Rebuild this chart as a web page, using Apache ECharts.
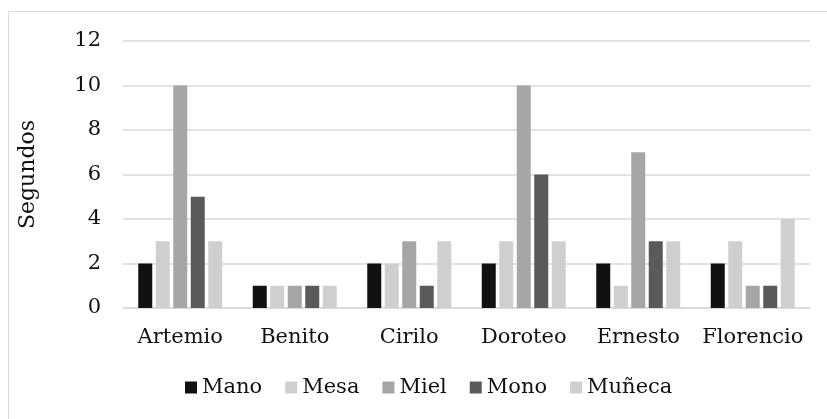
<!DOCTYPE html>
<html>
<head>
<meta charset="utf-8">
<script src="https://cdn.jsdelivr.net/npm/echarts@6/dist/echarts.min.js"></script>
<style>
  html, body { margin: 0; padding: 0; background: #fff; }
  #chart { width: 827px; height: 419px; }
</style>
</head>
<body>
<div id="chart"></div>
<script>
// Reaction time per person and word, in seconds
const categories = ['Artemio', 'Benito', 'Cirilo', 'Doroteo', 'Ernesto', 'Florencio'];
const seriesNames = ['Mano', 'Mesa', 'Miel', 'Mono', 'Muñeca'];
const mano   = [2, 1, 2, 2, 2, 2];
const mesa   = [3, 1, 2, 3, 1, 3];
const miel   = [10, 1, 3, 10, 7, 1];
const mono   = [5, 1, 1, 6, 3, 1];
const muneca = [3, 1, 3, 3, 3, 4];
const yMin = 0, yMax = 12, yStep = 2;
const yTitle = 'Segundos';

const colors = ['#111111', '#d0cfd0', '#a6a6a6', '#5a5a5a', '#d0cfd0'];
const values = [mano, mesa, miel, mono, muneca];
const font = 'DejaVu Serif';

const chart = echarts.init(document.getElementById('chart'), null, { renderer: 'canvas' });
chart.setOption({
  animation: false,
  backgroundColor: '#ffffff',
  textStyle: { fontFamily: font, color: '#111' },
  graphic: [{
    type: 'rect',
    shape: { x: 8.5, y: 11.5, width: 900, height: 500 },
    style: { fill: 'none', stroke: '#d9d9d9', lineWidth: 1 },
    silent: true
  }],
  grid: { left: 123, right: 17, top: 41, bottom: 111 },
  legend: {
    bottom: 16,
    left: 180,
    itemWidth: 12,
    itemHeight: 12,
    itemGap: 23,
    icon: 'rect',
    textStyle: { fontFamily: font, fontSize: 21, color: '#111', padding: [0, 0, 0, 0] },
    data: seriesNames
  },
  xAxis: {
    type: 'category',
    data: categories,
    axisLine: { lineStyle: { color: '#d9d9d9', width: 1.5 } },
    axisTick: { show: false },
    axisLabel: { fontFamily: font, fontSize: 21, color: '#111', margin: 19, interval: 0 }
  },
  yAxis: {
    type: 'value',
    min: yMin,
    max: yMax,
    interval: yStep,
    name: yTitle,
    nameLocation: 'middle',
    nameGap: 84,
    nameRotate: 90,
    nameTextStyle: { fontFamily: font, fontSize: 22, color: '#111', padding: [0, 0, 0, 0] },
    axisLine: { show: false },
    axisTick: { show: false },
    axisLabel: { fontFamily: font, fontSize: 21, color: '#111', margin: 22 },
    splitLine: { lineStyle: { color: '#d9d9d9', width: 1.5 } }
  },
  series: seriesNames.map((name, i) => ({
    name: name,
    type: 'bar',
    data: values[i],
    barWidth: 14,
    barGap: '25%',
    itemStyle: { color: colors[i] }
  }))
});
</script>
</body>
</html>
